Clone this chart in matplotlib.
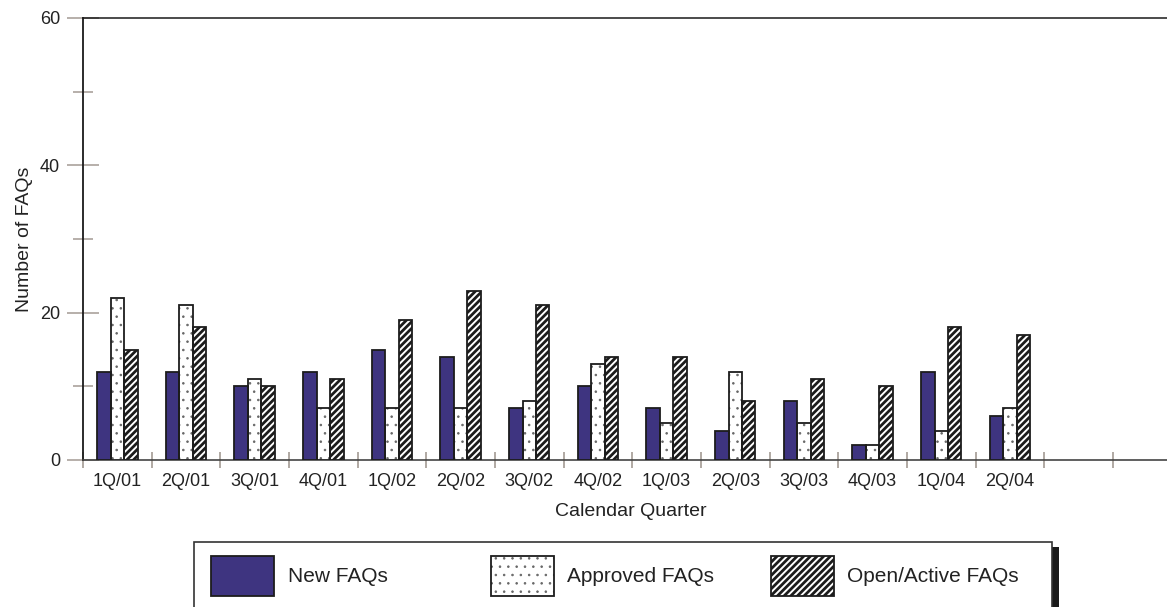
import matplotlib
matplotlib.use("Agg")
import matplotlib.pyplot as plt
from matplotlib.patches import Rectangle
import numpy as np

# Quarterly FAQ counts
quarters = ["1Q/01", "2Q/01", "3Q/01", "4Q/01", "1Q/02", "2Q/02", "3Q/02",
            "4Q/02", "1Q/03", "2Q/03", "3Q/03", "4Q/03", "1Q/04", "2Q/04"]
new_faqs = [12, 12, 10, 12, 15, 14, 7, 10, 7, 4, 8, 2, 12, 6]
approved_faqs = [22, 21, 11, 7, 7, 7, 8, 13, 5, 12, 5, 2, 4, 7]
open_faqs = [15, 18, 10, 11, 19, 23, 21, 14, 14, 8, 11, 10, 18, 17]
series_names = ["New FAQs", "Approved FAQs", "Open/Active FAQs"]
y_ticks = [0, 20, 40, 60]

W, H = 1167, 607
plt.rcParams["font.family"] = ["Liberation Sans", "DejaVu Sans"]
plt.rcParams["hatch.linewidth"] = 2.0

NEW_COLOR = "#3e3480"
EDGE = "#1c1c1c"
TICK_GRAY = "#aaa29c"
TEXT = "#222222"

fig = plt.figure(figsize=(W / 100, H / 100), dpi=100)


def fx(px):
    return px / W


def fy(py):
    return 1 - py / H


def set_hatch_lw(artist, lw):
    if hasattr(artist, "set_hatch_linewidth"):
        artist.set_hatch_linewidth(lw)


ax = fig.add_axes([fx(83), fy(460), 1 - fx(83) + 0.01, fy(18) - fy(460)])

x = np.arange(len(quarters))
bw = 0.196
# fill/hatch layer, then a dark outline on top
fills = [
    dict(facecolor=NEW_COLOR, edgecolor=NEW_COLOR, hatch=None, lw=0),
    dict(facecolor="white", edgecolor="#666666", hatch="..", lw=0.6),
    dict(facecolor="white", edgecolor=EDGE, hatch="/////", lw=2.0),
]
for i, (vals, st) in enumerate(zip([new_faqs, approved_faqs, open_faqs], fills)):
    bars = ax.bar(x + (i - 1) * bw, vals, width=bw, linewidth=0, zorder=3,
                  facecolor=st["facecolor"], edgecolor=st["edgecolor"],
                  hatch=st["hatch"])
    for b in bars:
        set_hatch_lw(b, st["lw"])
    ax.bar(x + (i - 1) * bw, vals, width=bw, fill=False, linewidth=1.3,
           edgecolor=EDGE, zorder=4)

n_slots = (W - 83) / 67.93
ax.set_xlim(-0.5, -0.5 + n_slots)
ax.set_ylim(0, 60)

# category labels centred in each slot; tick marks on slot boundaries
ax.set_xticks(x)
ax.set_xticklabels(quarters, fontsize=13, color=TEXT)
ax.tick_params(axis="x", which="major", length=0, pad=9)
ax.set_xticks(np.arange(-0.5, 15.0, 1.0), minor=True)
ax.tick_params(axis="x", which="minor", direction="inout", length=11.5,
               width=1.3, color=TICK_GRAY)

ax.set_yticks(y_ticks)
ax.set_yticklabels([str(v) for v in y_ticks], fontsize=13, color=TEXT)
ax.set_yticks([10, 30, 50], minor=True)
ax.tick_params(axis="y", which="major", direction="inout", length=23,
               width=1.2, color=TICK_GRAY, pad=5)
ax.tick_params(axis="y", which="minor", direction="inout", length=14.5,
               width=1.2, color=TICK_GRAY)

ax.spines["right"].set_visible(False)
ax.spines["left"].set_color("#1a1a1a")
ax.spines["left"].set_linewidth(1.3)
ax.spines["top"].set_color("#1a1a1a")
ax.spines["top"].set_linewidth(1.1)
ax.spines["bottom"].set_color("#444444")
ax.spines["bottom"].set_linewidth(1.2)

ax.set_xlabel("Calendar Quarter", fontsize=14, color=TEXT, labelpad=10)
ax.set_ylabel("Number of FAQs", fontsize=14, color=TEXT, labelpad=5)

# legend box with drop shadow on the right
tr = fig.transFigure
fig.patches.append(Rectangle((fx(1052), fy(640)), fx(7), fy(547) - fy(640),
                             transform=tr, facecolor="#1a1a1a",
                             edgecolor="none", zorder=5))
fig.patches.append(Rectangle((fx(194), fy(640)), fx(1052 - 194), fy(542) - fy(640),
                             transform=tr, facecolor="white",
                             edgecolor="#333333", linewidth=1.2, zorder=6))
legend_x = [211, 491, 771]
text_x = [288, 567, 847]
for lx, tx, st, name in zip(legend_x, text_x, fills, series_names):
    p = Rectangle((fx(lx), fy(596)), fx(63), fy(556) - fy(596),
                  transform=tr, linewidth=0, zorder=7,
                  facecolor=st["facecolor"], edgecolor=st["edgecolor"],
                  hatch=st["hatch"])
    set_hatch_lw(p, st["lw"])
    fig.patches.append(p)
    fig.patches.append(Rectangle((fx(lx), fy(596)), fx(63), fy(556) - fy(596),
                                 transform=tr, fill=False, linewidth=1.3,
                                 edgecolor=EDGE, zorder=7.5))
    fig.text(fx(tx), fy(576), name, fontsize=15, color=TEXT,
             va="center", ha="left", zorder=8)

fig.savefig("out.png", dpi=100)
